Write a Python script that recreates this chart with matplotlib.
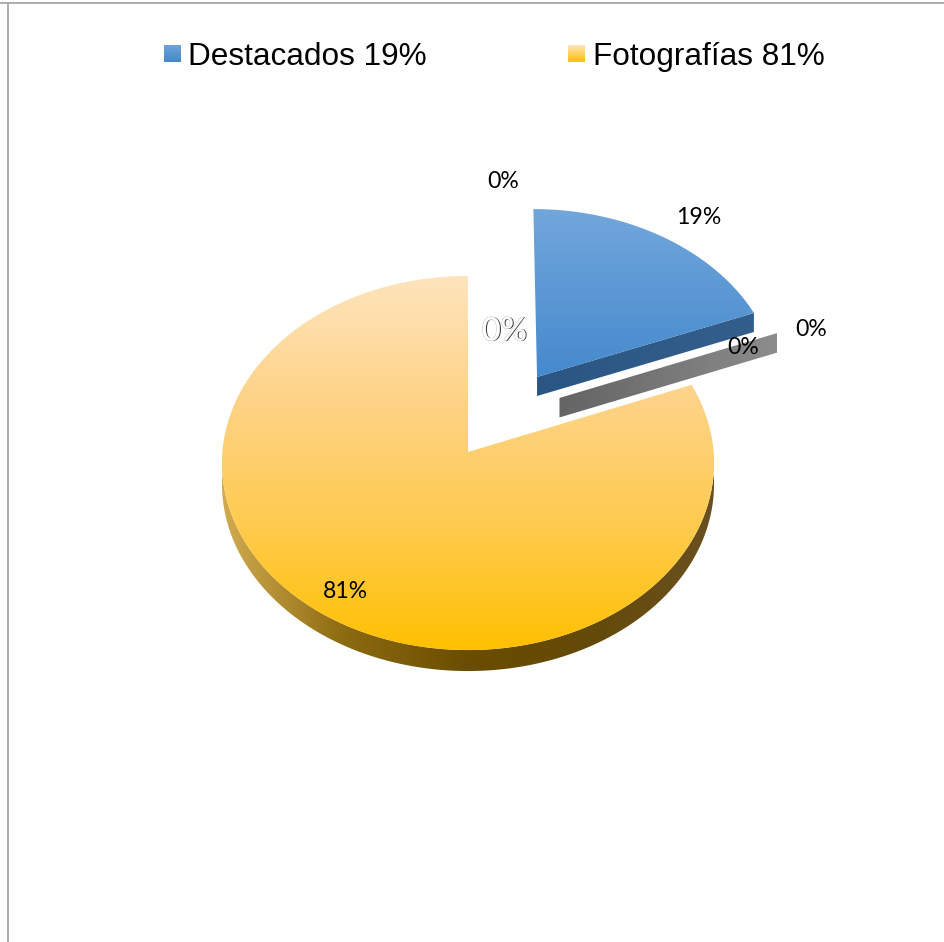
import numpy as np
import matplotlib
matplotlib.use("Agg")
import matplotlib.pyplot as plt
from matplotlib.patches import Polygon
from matplotlib.colors import LinearSegmentedColormap
import matplotlib.patheffects as pe

# --- data -----------------------------------------------------------------
categories = ["Destacados", "Fotografías"]
values = [19, 81]
legend_labels = ["Destacados 19%", "Fotografías 81%"]
pie_labels = ["19%", "81%", "0%", "0%", "0%", "0%"]

# --- projection of the tilted pie into pixels --------------------------------
CX, CY, R, H, K = 468.0, 452.0, 245.6, 186.4, 0.0588
EXPLODE_BLUE = 0.505
DEPTH = 20.0
SLIVER_OFFSET = (0.379, 0.295)
BLUE_SHIFT = (1.0, 1.0)


def proj(u, v):
    d = 1 + K * v
    return CX + R * u / d, CY - H * v / d


def arc(a0, a1, off=(0, 0), n=300):
    t = np.radians(np.linspace(a0, a1, n))
    return proj(np.sin(t) + off[0], np.cos(t) + off[1])


def grad(ax, poly, colors, x0, x1, y0, y1, horizontal=False):
    cmap = LinearSegmentedColormap.from_list("g", colors, N=256)
    g = np.linspace(0, 1, 256)
    g = g.reshape(1, -1) if horizontal else g.reshape(-1, 1)
    im = ax.imshow(g, cmap=cmap, vmin=0, vmax=1, extent=(x0, x1, y1, y0),
                   aspect="auto", interpolation="bilinear", zorder=poly.get_zorder())
    ax.add_patch(poly)
    im.set_clip_path(poly)
    poly.set_facecolor("none")
    poly.set_edgecolor("none")


fig = plt.figure(figsize=(9.45, 9.42), dpi=100)
ax = fig.add_axes([0, 0, 1, 1])
ax.set_xlim(0, 945)
ax.set_ylim(942, 0)
ax.axis("off")

# frame
ax.plot([0, 945], [2.5, 2.5], color="#a6a6a6", lw=1.3, zorder=1)
ax.plot([7.7, 7.7], [2.5, 942], color="#a6a6a6", lw=1.3, zorder=1)

# slice angles
fractions = np.array(values, dtype=float) / sum(values)
split = 360 * fractions[0]
mid_blue = np.radians(split / 2)
blue_off = (EXPLODE_BLUE * np.sin(mid_blue), EXPLODE_BLUE * np.cos(mid_blue))

# main slice rim
ax_, ay_ = arc(90, 270)
rim = np.column_stack([np.r_[ax_, ax_[::-1]], np.r_[ay_, ay_[::-1] + DEPTH + 1]])
grad(ax, Polygon(rim, closed=True, zorder=3),
     ["#d2ab50", "#8c6a10", "#6a4d00", "#644a08", "#6a5020"], 222, 714, 450, 680,
     horizontal=True)

# main slice top
mx, my = arc(split, 360)
ax0, ay0 = proj(0, 0)
top = np.column_stack([np.r_[ax0, mx], np.r_[ay0, my]])
grad(ax, Polygon(top, closed=True, zorder=4),
     ["#fee4bd", "#fed387", "#ffcb4e", "#ffc000"], 222, 714, 276, 651)

# sliver (zero-valued slice)
sx, sy = proj(np.array([0, np.sin(np.radians(split))]) + SLIVER_OFFSET[0],
              np.array([0, np.cos(np.radians(split))]) + SLIVER_OFFSET[1])
sl = np.column_stack([np.r_[sx, sx[::-1]], np.r_[sy, sy[::-1] + DEPTH - 0.5]])
grad(ax, Polygon(sl, closed=True, zorder=3), ["#646464", "#8c8c8c"],
     sx[0], sx[1], 320, 430, horizontal=True)

# exploded blue slice: side wall then top
ex, ey = proj(np.array([0, np.sin(np.radians(split))]) + blue_off[0],
              np.array([0, np.cos(np.radians(split))]) + blue_off[1])
ex, ey = ex + BLUE_SHIFT[0], ey + BLUE_SHIFT[1]
wall = np.column_stack([np.r_[ex, ex[::-1]], np.r_[ey, ey[::-1] + DEPTH - 1]])
grad(ax, Polygon(wall, closed=True, zorder=5), ["#2a5683", "#345f8c"],
     ex[0], ex[1], 300, 400, horizontal=True)
bx, by = arc(0, split, off=blue_off)
bx, by = bx + BLUE_SHIFT[0], by + BLUE_SHIFT[1]
bt = np.column_stack([np.r_[ex[0], bx], np.r_[ey[0], by]])
grad(ax, Polygon(bt, closed=True, zorder=6), ["#72a7dc", "#4589cd"], 530, 760, 208, 379)

# legend
SANS = "Liberation Sans"
for lab, colors, sx0, tx0 in zip(legend_labels,
                                 (["#6ea5db", "#4487c9"], ["#fee4bd", "#ffc000"]),
                                 (164, 568), (188, 593)):
    swatch = Polygon([(sx0, 45), (sx0 + 17, 45), (sx0 + 17, 62), (sx0, 62)], closed=True, zorder=6)
    grad(ax, swatch, colors, sx0, sx0 + 17, 45, 62)
    ax.text(tx0, 65, lab, fontsize=22.7, family=SANS, color="black", va="baseline", ha="left", zorder=8)

# data labels
LAB = "Lato"
label_pos = [(699, 218), (345, 591), (503, 182), (811, 330), (743, 348)]
for txt, (x, y) in zip(pie_labels[:5], label_pos):
    ax.text(x, y, txt, fontsize=16.6, family=LAB, color="black", ha="center", va="center", zorder=8)
# white, shadowed label in the gap
ax.text(505.2, 332, pie_labels[5], fontsize=23.5, family=LAB, color="#3a3a3a", ha="center", va="center", zorder=8)
ax.text(504.2, 331.5, pie_labels[5], fontsize=23.5, family=LAB, color="white", ha="center", va="center", zorder=8,
        path_effects=[pe.withStroke(linewidth=0.5, foreground="#b0b0b0")])

ax.set_xlim(0, 945)
ax.set_ylim(942, 0)
fig.savefig("out.png", dpi=100, facecolor="white")
